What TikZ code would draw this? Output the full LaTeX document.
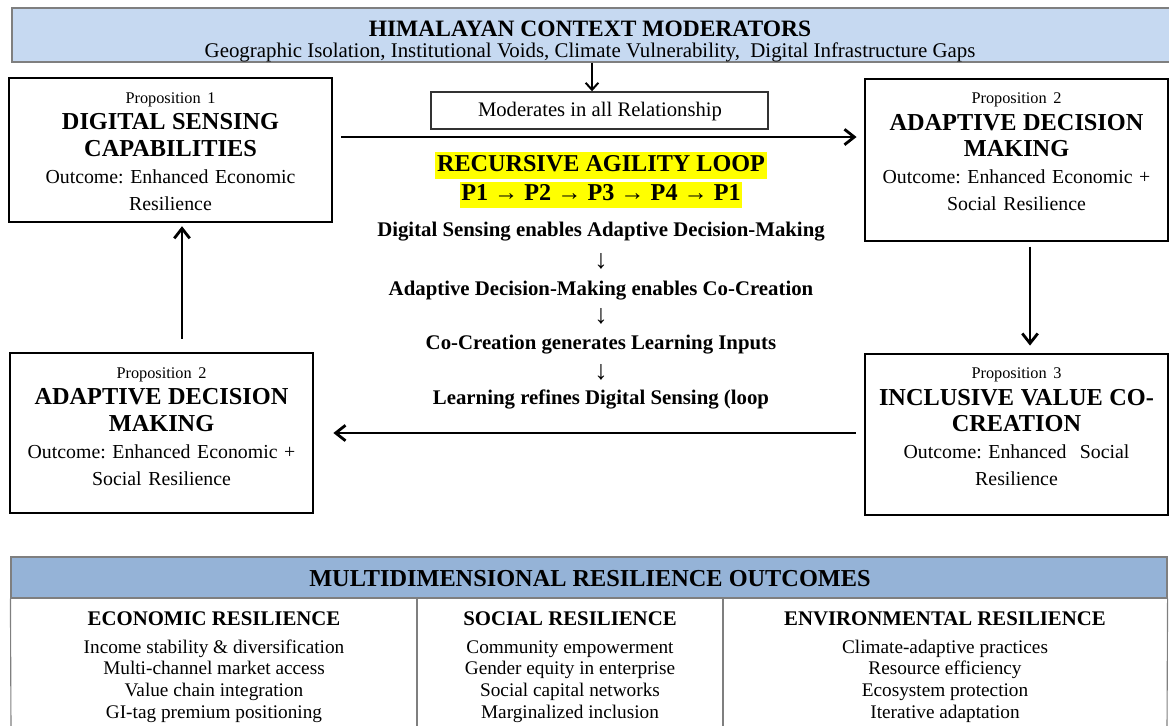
\documentclass[tikz,border=0pt]{standalone}
\usepackage{fontspec}
\setmainfont{Liberation Serif}
\frenchspacing
\usetikzlibrary{arrows.meta, positioning, fit}

\definecolor{ctxblue}{HTML}{C6D9F1}
\definecolor{outblue}{HTML}{95B3D7}
\definecolor{framegray}{HTML}{7F7F7F}
\definecolor{loopyellow}{HTML}{FFFF00}

\newcommand{\propnum}[1]{{\fontsize{11.6}{14}\selectfont #1}}
\newcommand{\prophead}[1]{{\fontsize{17.3}{20}\selectfont\bfseries #1}}

\tikzstyle{banner} = [rectangle, draw=framegray, line width=0.8pt, inner sep=0pt]
\tikzstyle{propbox} = [rectangle, draw=black, line width=2pt, inner sep=0pt]
\tikzstyle{proptext} = [text width=7.4cm, align=center, inner sep=0pt,
  font=\fontsize{14.1}{19}\selectfont]
\tikzstyle{modbox} = [rectangle, draw=black!80, line width=1pt, inner sep=0pt]
\tikzstyle{modtext} = [anchor=base, inner sep=0pt, font=\fontsize{14.7}{17}\selectfont]
\tikzstyle{looptitle} = [fill=loopyellow, inner xsep=1.2pt, inner ysep=0pt,
  text height=13.5pt, text depth=5pt, font=\fontsize{17.2}{20}\selectfont\bfseries]
\tikzstyle{loopstep} = [anchor=base, inner sep=0pt, font=\fontsize{14.8}{17}\selectfont\bfseries]
\tikzstyle{loopdown} = [anchor=base, inner sep=0pt, font=\fontsize{19}{20}\selectfont]
\tikzstyle{colhead} = [anchor=base, inner sep=0pt, font=\fontsize{14.8}{17}\selectfont\bfseries]
\tikzstyle{colitem} = [anchor=base, inner sep=0pt, font=\fontsize{13.7}{16}\selectfont]
\tikzstyle{tablerule} = [draw=framegray, line width=0.8pt]
\tikzstyle{arrow} = [-{Straight Barb[length=7pt, width=11pt]}, line width=2pt]
\tikzstyle{thinarrow} = [-{Straight Barb[length=5pt, width=9pt]}, line width=1.4pt]

\begin{document}
\begin{tikzpicture}[x=0.025cm, y=-0.025cm]
  \useasboundingbox (0,0) rectangle (1169,725);

  % context banner
  \node[banner, fill=ctxblue, fit={(12,8) (1172,62)}] (ctx) {};
  \node[anchor=base, inner sep=0pt, font=\fontsize{16.7}{20}\selectfont\bfseries]
    (ctxtitle) at (590,36) {HIMALAYAN CONTEXT MODERATORS};
  \node[anchor=base, inner sep=0pt, font=\fontsize{14.85}{17}\selectfont]
    (ctxsub) at (590,57) {Geographic Isolation, Institutional Voids, Climate Vulnerability,~ Digital Infrastructure Gaps};

  \node[modbox, fit={(431,92) (768,129)}] (mod) {};
  \node[modtext] (modtxt) at (600,116) {Moderates in all Relationship};
  \coordinate (modx) at (592,0);
  \draw[thinarrow] (ctx.south -| modx) -- (mod.north -| modx);

  % propositions
  \node[propbox, fit={(9,78) (332,222)}] (p1) {};
  \node[propbox, fit={(865,79) (1168,241)}] (p2) {};
  \node[propbox, fit={(865,354) (1168,515)}] (p3) {};
  \node[propbox, fit={(10,353) (313,513)}] (p4) {};

  \node[proptext, below=11pt of p1.north] (p1txt) {\propnum{Proposition 1}\\
    \prophead{DIGITAL SENSING}\\ \prophead{CAPABILITIES}\\
    Outcome: Enhanced Economic\\ Resilience};
  \node[proptext, below=10.5pt of p2.north] (p2txt) {\propnum{Proposition 2}\\
    \prophead{ADAPTIVE DECISION}\\ \prophead{MAKING}\\
    Outcome: Enhanced Economic +\\ Social Resilience};
  \node[proptext, below=10.5pt of p3.north] (p3txt) {\propnum{Proposition 3}\\
    \prophead{INCLUSIVE VALUE CO-}\\ \prophead{CREATION}\\
    Outcome: Enhanced~ Social\\ Resilience};
  \node[proptext, below=11pt of p4.north] (p4txt) {\propnum{Proposition 2}\\
    \prophead{ADAPTIVE DECISION}\\ \prophead{MAKING}\\
    Outcome: Enhanced Economic +\\ Social Resilience};

  \coordinate (flowy) at (0,137);
  \coordinate (downx) at (1030,0);
  \coordinate (backy) at (0,433);
  \coordinate (upx) at (182,0);
  \draw[arrow, shorten <=5.7pt, shorten >=5pt] (p1.east |- flowy) -- (p2.west |- flowy);
  \draw[arrow, shorten <=3pt, shorten >=5pt] (p2.south -| downx) -- (p3.north -| downx);
  \draw[arrow, shorten <=5.7pt, shorten >=13.5pt] (p3.west |- backy) -- (p4.east |- backy);
  \draw[arrow, shorten <=9pt, shorten >=2pt] (p4.north -| upx) -- (p1.south -| upx);

  % loop in the middle
  \node[looptitle] (loop) at (601,165.5) {RECURSIVE AGILITY LOOP};
  \node[looptitle] (loopseq) at (601,195) {P1 → P2 → P3 → P4 → P1};
  \node[loopstep] (step1) at (601,236) {Digital Sensing enables Adaptive Decision-Making};
  \node[loopdown] (down1) at (601,268) {↓};
  \node[loopstep] (step2) at (601,295) {Adaptive Decision-Making enables Co-Creation};
  \node[loopdown] (down2) at (601,323) {↓};
  \node[loopstep] (step3) at (601,349) {Co-Creation generates Learning Inputs};
  \node[loopdown] (down3) at (601,379) {↓};
  \node[loopstep] (step4) at (601,404) {Learning refines Digital Sensing (loop};

  % outcomes table
  \node[banner, fill=outblue, fit={(11,557) (1167,598)}] (outhdr) {};
  \node[anchor=base, inner sep=0pt, font=\fontsize{17.3}{20}\selectfont\bfseries]
    (outtitle) at (590,586) {MULTIDIMENSIONAL RESILIENCE OUTCOMES};
  \draw[tablerule] (outhdr.south west) -- (11,730);
  \draw[tablerule] (outhdr.south east) -- (1167,730);
  \foreach \x in {417, 723}
    \draw[tablerule] (\x,598) -- (\x,730);

  \foreach \name/\cx/\head in {eco/214/ECONOMIC RESILIENCE, soc/570/SOCIAL RESILIENCE,
      env/945/ENVIRONMENTAL RESILIENCE}
    \node[colhead] (\name-head) at (\cx,625) {\head};

  \foreach \txt [count=\i] in {Income stability \& diversification, Multi-channel market access,
      Value chain integration, GI-tag premium positioning}
    \node[colitem] (eco-\i) at (214,631.3+21.7*\i) {\txt};
  \foreach \txt [count=\i] in {Community empowerment, Gender equity in enterprise,
      Social capital networks, Marginalized inclusion}
    \node[colitem] (soc-\i) at (570,631.3+21.7*\i) {\txt};
  \foreach \txt [count=\i] in {Climate-adaptive practices, Resource efficiency,
      Ecosystem protection, Iterative adaptation}
    \node[colitem] (env-\i) at (945,631.3+21.7*\i) {\txt};

\end{tikzpicture}
\end{document}
